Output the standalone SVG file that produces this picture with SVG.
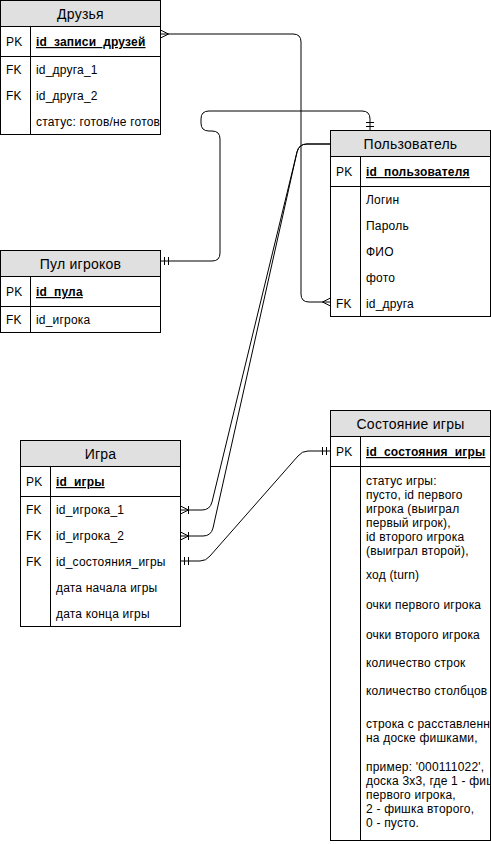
<svg xmlns="http://www.w3.org/2000/svg" width="491" height="844" viewBox="0 0 491 844">
<style>
.tbl{fill:#fff;stroke:#000;stroke-width:1}
.hdr{fill:#e0e0e0;stroke:none}
.ln{fill:none;stroke:#000;stroke-width:1}
.ht{font-family:"Liberation Sans",Arial,sans-serif;font-size:14px;letter-spacing:0.25px;text-anchor:middle;fill:#000}
.t{font-family:"Liberation Sans",Arial,sans-serif;font-size:12px;letter-spacing:0.2px;fill:#000}
.pk{font-weight:bold;text-decoration:underline}
.edge{fill:none;stroke:#000;stroke-width:1}
.mk{fill:none;stroke:#000;stroke-width:1}
</style>
<defs>
<clipPath id="clipFriends"><rect x="31" y="57" width="129" height="77"/></clipPath>
<clipPath id="clipState"><rect x="361" y="467" width="129" height="373"/></clipPath>
<marker id="many" viewBox="0 0 20 20" markerWidth="20" markerHeight="20" refX="10" refY="10" orient="auto-start-reverse" markerUnits="userSpaceOnUse" overflow="visible">
<path class="mk" d="M2,10 L10,6 M2,10 L10,14"/>
</marker>
<marker id="mandOne" viewBox="0 0 20 20" markerWidth="20" markerHeight="20" refX="10" refY="10" orient="auto-start-reverse" markerUnits="userSpaceOnUse" overflow="visible">
<path class="mk" d="M6,6 V14 M2,6 V14"/>
</marker>
<marker id="oneMany" viewBox="0 0 20 20" markerWidth="20" markerHeight="20" refX="10" refY="10" orient="auto-start-reverse" markerUnits="userSpaceOnUse" overflow="visible">
<path class="mk" d="M2,10 L10,6 M2,10 L10,14 M2,6 V14"/>
</marker>
</defs>

<g id="connectors">
<path class="edge" d="M160.5,34 H293 Q301,34 301,42 V294 Q301,302 309,302 H330.5" marker-start="url(#many)" marker-end="url(#many)"/>
<path class="edge" d="M160.5,261 H212 Q220,261 220,253 V139 Q220,131 212,131 H209 Q201,131 201,123 V119 Q201,111 209,111 H362 Q370,111 370,119 V130.5" marker-start="url(#mandOne)" marker-end="url(#mandOne)"/>
<path class="edge" d="M180.5,510 H202 Q210,510 212,502 L297,152 Q299,144 307,144 H330.5" marker-start="url(#oneMany)"/>
<path class="edge" d="M180.5,536 H203 Q211,536 213,528 L297,152 Q299,144 307,144 H330.5" marker-start="url(#oneMany)"/>
<path class="edge" d="M180.5,561 H200 Q206,561 210,556 L298,456 Q302,451 308,451 H330.5" marker-start="url(#mandOne)" marker-end="url(#mandOne)"/>
</g>

<g id="friends">
<rect class="tbl" x="0.5" y="0.5" width="160" height="134"/>
<rect class="hdr" x="1" y="1" width="159" height="25.5"/>
<path class="ln" d="M0.5,26.5 H160.5 M0.5,56.5 H160.5 M30.5,26.5 V134.5"/>
<text class="ht" x="80.5" y="18.5">Друзья</text>
<text class="t" x="6" y="46">PK</text>
<text class="t pk" x="36" y="46">id_записи_друзей</text>
<text class="t" x="6" y="74">FK</text>
<text class="t" x="36" y="74">id_друга_1</text>
<text class="t" x="6" y="100">FK</text>
<text class="t" x="36" y="100">id_друга_2</text>
<text class="t" x="36" y="126" clip-path="url(#clipFriends)">статус: готов/не готов</text>
</g>

<g id="pool">
<rect class="tbl" x="0.5" y="250.5" width="160" height="82"/>
<rect class="hdr" x="1" y="251" width="159" height="25.5"/>
<path class="ln" d="M0.5,276.5 H160.5 M0.5,306.5 H160.5 M30.5,276.5 V332.5"/>
<text class="ht" x="80.5" y="268.5">Пул игроков</text>
<text class="t" x="6" y="296">PK</text>
<text class="t pk" x="36" y="296">id_пула</text>
<text class="t" x="6" y="324">FK</text>
<text class="t" x="36" y="324">id_игрока</text>
</g>

<g id="user">
<rect class="tbl" x="330.5" y="130.5" width="160" height="186"/>
<rect class="hdr" x="331" y="131" width="159" height="25.5"/>
<path class="ln" d="M330.5,156.5 H490.5 M330.5,186.5 H490.5 M360.5,156.5 V316.5"/>
<text class="ht" x="410.5" y="148.5">Пользователь</text>
<text class="t" x="336" y="176">PK</text>
<text class="t pk" x="366" y="176">id_пользователя</text>
<text class="t" x="366" y="204">Логин</text>
<text class="t" x="366" y="230">Пароль</text>
<text class="t" x="366" y="256">ФИО</text>
<text class="t" x="366" y="282">фото</text>
<text class="t" x="336" y="308">FK</text>
<text class="t" x="366" y="308">id_друга</text>
</g>

<g id="game">
<rect class="tbl" x="20.5" y="440.5" width="160" height="186"/>
<rect class="hdr" x="21" y="441" width="159" height="25.5"/>
<path class="ln" d="M20.5,466.5 H180.5 M20.5,496.5 H180.5 M50.5,466.5 V626.5"/>
<text class="ht" x="100.5" y="458.5">Игра</text>
<text class="t" x="26" y="486">PK</text>
<text class="t pk" x="56" y="486">id_игры</text>
<text class="t" x="26" y="514">FK</text>
<text class="t" x="56" y="514">id_игрока_1</text>
<text class="t" x="26" y="540">FK</text>
<text class="t" x="56" y="540">id_игрока_2</text>
<text class="t" x="26" y="566">FK</text>
<text class="t" x="56" y="566">id_состояния_игры</text>
<text class="t" x="56" y="592">дата начала игры</text>
<text class="t" x="56" y="618">дата конца игры</text>
</g>

<g id="state">
<rect class="tbl" x="330.5" y="410.5" width="160" height="430"/>
<rect class="hdr" x="331" y="411" width="159" height="25.5"/>
<path class="ln" d="M330.5,436.5 H490.5 M330.5,466.5 H490.5 M360.5,436.5 V840.5"/>
<text class="ht" x="410.5" y="428.5">Состояние игры</text>
<text class="t" x="336" y="456">PK</text>
<text class="t pk" x="366" y="456">id_состояния_игры</text>
<g clip-path="url(#clipState)">
<text class="t" x="366" y="485">статус игры:</text>
<text class="t" x="366" y="499">пусто, id первого</text>
<text class="t" x="366" y="513">игрока (выиграл</text>
<text class="t" x="366" y="527">первый игрок),</text>
<text class="t" x="366" y="541">id второго игрока</text>
<text class="t" x="366" y="555">(выиграл второй),</text>
<text class="t" x="366" y="579">ход (turn)</text>
<text class="t" x="366" y="609">очки первого игрока</text>
<text class="t" x="366" y="639">очки второго игрока</text>
<text class="t" x="366" y="667">количество строк</text>
<text class="t" x="366" y="695">количество столбцов</text>
<text class="t" x="366" y="728">строка с расставленн</text>
<text class="t" x="366" y="742">на доске фишками,</text>
<text class="t" x="366" y="771">пример: '000111022',</text>
<text class="t" x="366" y="785">доска 3х3, где 1 - фиш</text>
<text class="t" x="366" y="799">первого игрока,</text>
<text class="t" x="366" y="813">2 - фишка второго,</text>
<text class="t" x="366" y="827">0 - пусто.</text>
</g>
</g>
</svg>
